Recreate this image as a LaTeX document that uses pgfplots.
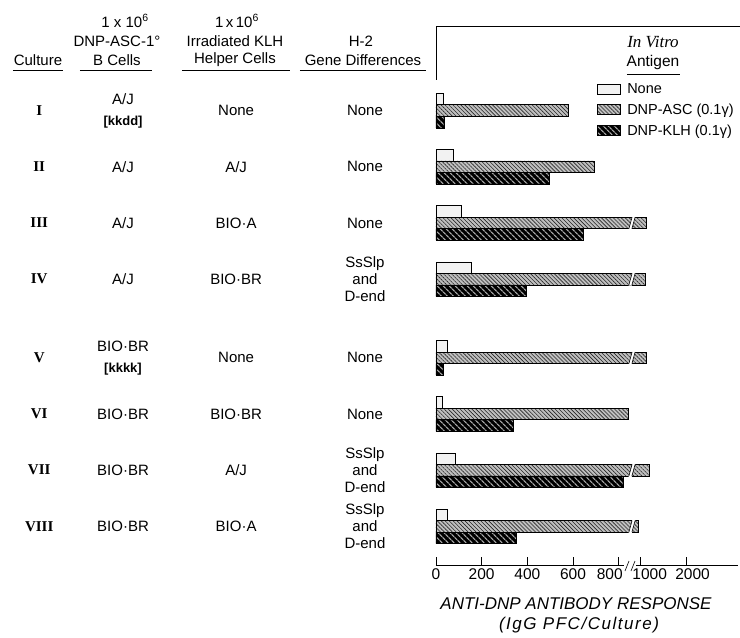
\documentclass[border=0pt]{standalone}
\usepackage{fontspec}
\setmainfont{Liberation Sans}
\newfontfamily\romfont{Liberation Serif}
\usepackage{pgfplots}
\pgfplotsset{compat=1.18}
\usepackage{pgfplotstable}
\usetikzlibrary{patterns.meta}

% rows: y position of each culture (I..VIII); values in IgG PFC/culture
\pgfplotstableread{
row none asc klh
1   30  579  35
2   76  691  496
3   112 1130 645
4   153 1093 394
5.4 50  1115 32
6.4 29  842  338
7.4 83  1188 820
8.4 50  965  353
}\data

% broken axis: 0-850 linear, 850-1000 compressed, above 1000 at 200 units per 1000
\newcommand\brkx[1]{(\thisrow{#1}>1000 ? 896+(\thisrow{#1}-1000)*0.2 : (\thisrow{#1}>850 ? 850+(\thisrow{#1}-850)*0.3067 : \thisrow{#1}))}

\pgfplotsset{
  mylegend/.style={legend image code/.code={\draw[##1] (0pt,-5pt) rectangle (23pt,5pt); \path (28pt,0pt);}},
}

\begin{document}
\begin{tikzpicture}[font=\fontsize{15}{18}\selectfont]
\path[use as bounding box] (-436pt,-73pt) rectangle (304pt,565pt);
\begin{axis}[
  at={(0pt,0pt)}, anchor=south west,
  scale only axis, width=302pt, height=539pt,
  xmin=0, xmax=1322, ymin=-0.504, ymax=9.087, y dir=reverse,
  axis x line=bottom, axis y line=none,
  x axis line style={-, line width=0.6pt},
  xtick={0,200,400,600,800,896,1097},
  xticklabels={0,200,400,600,800\rule{18pt}{0pt},\rule{18pt}{0pt}1000,\rule{12pt}{0pt}2000},
  /pgf/number format/assume math mode=true,
  tick align=inside, major tick length=8pt,
  xtick style={line width=0.6pt, black},
  x tick label style={font=\fontsize{15.5}{15}\selectfont},
  xbar, bar width=0.205,
  clip=false,
  legend style={at={(0.533,0.897)}, anchor=north west, draw=none, fill=none,
    inner sep=0pt, row sep=6pt, font=\fontsize{14.5}{16}\selectfont,
    nodes={inner sep=1.5pt}},
  legend cell align=left,
]
\addplot[mylegend, draw=black, line width=0.6pt, fill=gray!10, bar shift=-0.205]
  table[x=none, y=row]{\data};
\addplot[mylegend, draw=black, line width=0.6pt, fill=gray!50,
  postaction={pattern={Lines[angle=-45,distance=2.8pt,line width=0.6pt]}, pattern color=black!85},
  bar shift=0]
  table[x expr=\brkx{asc}, y=row]{\data};
\addplot[mylegend, draw=black, line width=0.6pt, fill=black,
  postaction={pattern={Lines[angle=-45,distance=4pt,line width=1.3pt]}, pattern color=gray!70},
  bar shift=0.205]
  table[x expr=\brkx{klh}, y=row]{\data};
\legend{None, DNP-ASC (0.1γ), DNP-KLH (0.1γ)}

% breaks in the long DNP-ASC bars
\pgfplotsinvokeforeach{3,4,5.4,7.4,8.4}{
  \fill[white] ([xshift=-3.4pt,yshift=-6.6pt]axis cs:858,#1) -- ([xshift=-0.3pt,yshift=-6.6pt]axis cs:858,#1)
     -- ([xshift=3.4pt,yshift=6.6pt]axis cs:858,#1) -- ([xshift=0.3pt,yshift=6.6pt]axis cs:858,#1) -- cycle;
  \draw[line width=0.6pt] ([xshift=-3.1pt,yshift=-5.8pt]axis cs:858,#1) -- ([xshift=0.1pt,yshift=5.8pt]axis cs:858,#1);
  \draw[line width=0.6pt] ([xshift=-0.1pt,yshift=-5.8pt]axis cs:858,#1) -- ([xshift=3.1pt,yshift=5.8pt]axis cs:858,#1);
}

% table rows
\begin{scope}[every node/.style={align=center}]
\node at (axis cs:-1737,1)   {\romfont\bfseries I};
\node at (axis cs:-1737,2)   {\romfont\bfseries II};
\node at (axis cs:-1737,3)   {\romfont\bfseries III};
\node at (axis cs:-1737,4)   {\romfont\bfseries IV};
\node at (axis cs:-1737,5.4) {\romfont\bfseries V};
\node at (axis cs:-1737,6.4) {\romfont\bfseries VI};
\node at (axis cs:-1737,7.4) {\romfont\bfseries VII};
\node at (axis cs:-1737,8.4) {\romfont\bfseries VIII};

\node[font=\fontsize{15}{21}\selectfont] at (axis cs:-1370,1) {A/J\\{\bfseries\fontsize{13}{15}\selectfont [kkdd]}};
\node at (axis cs:-1370,2)   {A/J};
\node at (axis cs:-1370,3)   {A/J};
\node at (axis cs:-1370,4)   {A/J};
\node[font=\fontsize{15}{21}\selectfont] at (axis cs:-1370,5.4) {BIO·BR\\{\bfseries\fontsize{13}{15}\selectfont [kkkk]}};
\node at (axis cs:-1370,6.4) {BIO·BR};
\node at (axis cs:-1370,7.4) {BIO·BR};
\node at (axis cs:-1370,8.4) {BIO·BR};

\node at (axis cs:-875,1)   {None};
\node at (axis cs:-875,2)   {A/J};
\node at (axis cs:-875,3)   {BIO·A};
\node at (axis cs:-875,4)   {BIO·BR};
\node at (axis cs:-875,5.4) {None};
\node at (axis cs:-875,6.4) {BIO·BR};
\node at (axis cs:-875,7.4) {A/J};
\node at (axis cs:-875,8.4) {BIO·A};

\node at (axis cs:-311,1)   {None};
\node at (axis cs:-311,2)   {None};
\node at (axis cs:-311,3)   {None};
\node[font=\fontsize{15}{17}\selectfont] at (axis cs:-311,4)   {SsSlp\\and\\D-end};
\node at (axis cs:-311,5.4) {None};
\node at (axis cs:-311,6.4) {None};
\node[font=\fontsize{15}{17}\selectfont] at (axis cs:-311,7.4) {SsSlp\\and\\D-end};
\node[font=\fontsize{15}{17}\selectfont] at (axis cs:-311,8.4) {SsSlp\\and\\D-end};
\end{scope}
\end{axis}

% top frame
\draw[line width=0.6pt] (0pt,485pt) -- (0pt,539pt) -- (304pt,539pt);
% axis break on x axis
\fill[white] (188pt,-1pt) rectangle (200pt,1pt);
\draw[line width=0.6pt] (189pt,-6pt) -- (193pt,4pt);
\draw[line width=0.6pt] (195pt,-6pt) -- (199pt,4pt);

% axis title
\node at (140pt,-39pt) {\fontsize{17}{17}\selectfont\itshape ANTI-DNP ANTIBODY RESPONSE};
\node at (143pt,-60pt) {\fontsize{17}{17}\selectfont\itshape\addfontfeatures{LetterSpace=9}(IgG PFC/Culture)};

% legend title
\node at (217pt,523pt) {\romfont\itshape\fontsize{17}{17}\selectfont In Vitro};
\node at (217pt,503pt) {\fontsize{15.5}{16}\selectfont Antigen};
\draw[line width=0.6pt] (191pt,491pt) -- (244pt,491pt);

% column headers
\node at (-398pt,505pt) {Culture};
\draw[line width=0.8pt] (-423pt,495pt) -- (-373pt,495pt);
\node at (-311pt,544pt) {1 x 10\textsuperscript{6}};
\node at (-319pt,524pt) {DNP-ASC-1°};
\node at (-319pt,505pt) {B Cells};
\draw[line width=0.8pt] (-356pt,495pt) -- (-284pt,495pt);
\node at (-199pt,544pt) {1\,x\,10\textsuperscript{6}};
\node at (-201pt,524pt) {Irradiated KLH};
\node at (-201pt,505pt) {Helper Cells};
\draw[line width=0.8pt] (-254pt,495pt) -- (-146pt,495pt);
\node at (-75pt,524pt) {H-2};
\node at (-73pt,505pt) {Gene Differences};
\draw[line width=0.8pt] (-136pt,495pt) -- (-10pt,495pt);
\end{tikzpicture}
\end{document}
